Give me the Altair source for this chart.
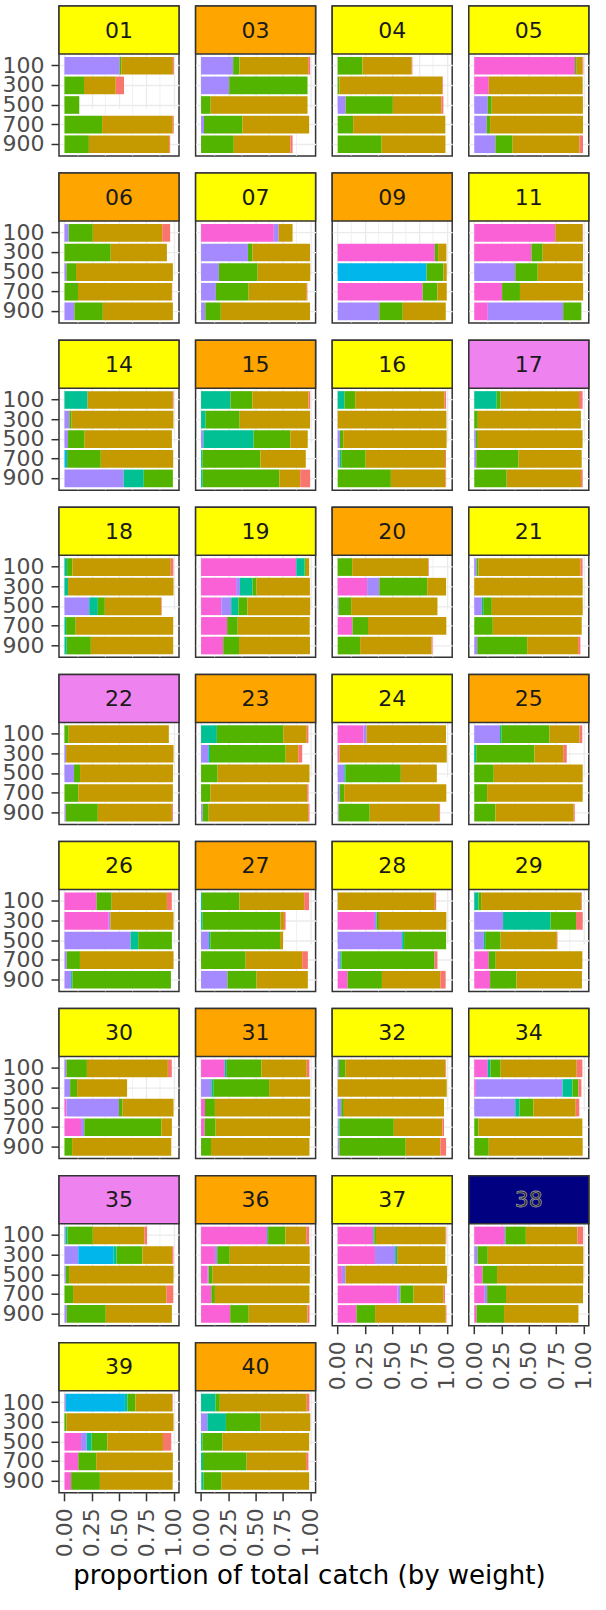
import altair as alt
import pandas as pd

# categories in stacking order (left -> right)
CATS = ["G", "F", "E", "D", "C", "B", "A"]
CAT_COLORS = ["#FB61D7", "#A58AFF", "#00B6EB", "#00C094", "#53B400", "#C49A00", "#F8766D"]
DEPTHS = ["100", "300", "500", "700", "900"]
MAJOR = [0, 0.25, 0.5, 0.75, 1.0]
MINOR = [0.125, 0.375, 0.625, 0.875]
X_TITLE = "proportion of total catch (by weight)"

STRIP_FILL = {"yellow": "#FFFF00", "orange": "#FFA500", "violet": "#EE82EE", "navy": "#000080"}

# each row: [pink, violet, cyan, teal, green, gold, red]
p01 = [[0, .506, 0, 0, .015, .473, .009], [0, 0, 0, 0, .179, .291, .076], [0, 0, 0, 0, .136, 0, 0],
       [0, 0, 0, 0, .345, .648, .009], [0, 0, 0, 0, .224, .736, .009]]
p03 = [[0, .294, 0, 0, .058, .63, .018], [0, .258, 0, 0, .718, 0, 0], [0, 0, 0, 0, .088, .888, 0],
       [0, .027, 0, 0, .352, .612, 0], [0, 0, 0, 0, .3, .518, .021]]
p04 = [[0, 0, 0, 0, .227, .452, .006], [0, 0, 0, 0, .015, .945, .006], [0, .073, 0, 0, .433, .445, .018],
       [0, 0, 0, 0, .142, .845, 0], [0, 0, 0, 0, .403, .585, 0]]
p05 = [[.924, 0, 0, 0, .015, .055, .006], [.133, 0, 0, 0, 0, .861, 0], [0, .124, 0, 0, .036, .836, 0],
       [0, .115, 0, 0, .03, .852, 0], [0, .194, 0, 0, .158, .612, .033]]
p06 = [[0, .039, 0, 0, .221, .636, .073], [0, 0, 0, 0, .424, .515, 0], [0, .018, 0, 0, .088, .888, 0],
       [0, 0, 0, 0, .124, .861, .003], [0, .091, 0, 0, .261, .642, 0]]
p07 = [[.667, .045, 0, 0, 0, .127, 0], [0, .43, 0, 0, .042, .527, 0], [0, .164, 0, 0, .355, .482, 0],
       [0, .136, 0, 0, .3, .533, .006], [0, .039, 0, 0, .142, .818, 0]]
p09 = [[0, 0, 0, 0, 0, 0, 0], [.891, 0, 0, 0, .03, .076, 0], [0, 0, .815, 0, .155, .03, 0],
       [.779, 0, 0, 0, .136, .085, 0], [0, .382, 0, 0, .215, .394, 0]]
p11 = [[.742, 0, 0, 0, 0, .252, .003], [.524, 0, 0, 0, .103, .37, 0], [0, .376, 0, 0, .206, .412, 0],
       [.255, 0, 0, 0, .164, .579, 0], [.124, .691, 0, 0, .167, 0, 0]]
p14 = [[0, 0, 0, .212, 0, .782, .006], [0, .045, 0, 0, .021, .933, 0], [0, .033, 0, 0, .152, .8, 0],
       [0, 0, .024, 0, .309, .664, 0], [0, .542, 0, .185, .267, 0, 0]]
p15 = [[0, 0, 0, .27, .2, .515, .015], [0, 0, 0, .042, .312, .645, 0], [0, .021, 0, .461, .336, .16, 0],
       [0, 0, 0, .012, .533, .415, 0], [0, 0, 0, .015, .703, .191, .091]]
p16 = [[0, 0, 0, .064, .097, .818, .015], [0, 0, 0, 0, 0, .997, 0], [0, .021, 0, 0, .03, .948, 0],
       [0, .018, 0, .015, .224, .727, .009], [0, 0, 0, 0, .488, .5, .006]]
p17 = [[0, 0, 0, .206, .036, .718, .033], [0, 0, 0, 0, .033, .945, 0], [0, .015, 0, 0, .018, .96, 0],
       [0, .018, 0, 0, .388, .579, 0], [0, 0, 0, 0, .297, .682, .015]]
p18 = [[0, 0, 0, .024, .048, .903, .024], [0, 0, 0, .033, 0, .967, 0], [0, .227, 0, .079, .064, .515, .006],
       [0, 0, 0, .015, .088, .894, 0], [0, 0, 0, .021, .221, .755, 0]]
p19 = [[.873, 0, 0, .076, .012, .03, 0], [.321, .036, 0, .115, .036, .49, 0], [.185, .091, 0, .067, .082, .575, 0],
       [.239, 0, 0, 0, .097, .66, 0], [.203, 0, 0, 0, .145, .65, 0]]
p20 = [[0, 0, 0, 0, .133, .697, .006], [.27, .112, 0, 0, .439, .173, 0], [0, .009, 0, 0, .115, .791, 0],
       [.136, 0, 0, 0, .142, .718, 0], [0, 0, 0, 0, .206, .655, .009]]
p21 = [[0, .021, 0, 0, .018, .936, .018], [0, 0, 0, 0, 0, .994, 0], [0, .07, 0, .012, .079, .833, 0],
       [0, 0, 0, 0, .17, .815, 0], [0, .027, 0, 0, .458, .467, .021]]
p22 = [[0, 0, 0, 0, .039, .918, 0], [0, .015, 0, 0, 0, .985, 0], [0, .088, 0, 0, .055, .852, 0],
       [0, 0, 0, 0, .127, .867, 0], [0, .012, 0, 0, .294, .679, .009]]
p23 = [[0, 0, 0, .145, .609, .215, .015], [0, .067, 0, .015, .694, .115, .036], [0, 0, 0, 0, .152, .842, 0],
       [0, 0, 0, 0, .085, .888, .012], [0, .015, 0, 0, .055, .912, .012]]
p24 = [[.236, .03, 0, 0, 0, .727, 0], [.015, 0, 0, 0, 0, .985, 0], [0, .061, 0, .012, .506, .33, 0],
       [0, .018, 0, 0, .042, .936, 0], [0, .009, 0, 0, .285, .636, .009]]
p25 = [[0, .236, 0, .012, .442, .276, .024], [0, 0, 0, .018, .533, .264, .033], [0, 0, 0, 0, .179, .815, 0],
       [0, 0, 0, 0, .118, .876, 0], [0, 0, 0, 0, .194, .718, .009]]
p26 = [[.294, 0, 0, 0, .139, .506, .045], [.406, .015, 0, 0, 0, .579, 0], [0, .606, 0, .07, .309, 0, 0],
       [0, .021, 0, 0, .121, .858, 0], [0, .061, 0, .012, .903, 0, 0]]
p27 = [[0, 0, 0, .009, .342, .594, .045], [0, 0, 0, .015, .712, .033, .015], [0, .073, 0, .012, .639, .027, 0],
       [0, 0, 0, 0, .409, .518, .052], [0, .242, 0, 0, .267, .47, 0]]
p28 = [[0, 0, 0, 0, 0, .891, .012], [.333, .024, 0, 0, .021, .618, 0], [0, .591, 0, .018, .385, 0, 0],
       [0, .024, 0, .012, .852, 0, .027], [.091, 0, 0, 0, .315, .536, .048]]
p29 = [[0, 0, 0, .039, .024, .918, .006], [0, .264, 0, .436, .233, 0, .061], [0, .088, 0, .012, .142, .515, .006],
       [.133, 0, 0, 0, .064, .794, 0], [.145, 0, 0, 0, .242, .6, 0]]
p30 = [[0, .018, 0, 0, .188, .742, .036], [0, .052, 0, 0, .064, .458, 0], [.018, .482, 0, 0, .033, .467, 0],
       [.152, .03, 0, 0, .706, .097, 0], [0, 0, 0, 0, .07, .909, 0]]
p31 = [[.218, 0, 0, .018, .318, .415, .024], [0, .094, 0, .018, .512, .376, 0], [.036, 0, 0, 0, .091, .873, 0],
       [.033, 0, 0, 0, .1, .867, 0], [0, 0, 0, 0, .091, .903, 0]]
p32 = [[0, .012, 0, 0, .058, .918, .006], [0, 0, 0, 0, 0, 1.0, 0], [0, .033, 0, 0, .024, .918, 0],
       [0, .009, 0, .009, .497, .445, .015], [0, .015, 0, 0, .609, .318, .052]]
p34 = [[.124, 0, 0, .024, .094, .697, .052], [.015, .794, 0, .091, .055, 0, .027], [0, .376, 0, .039, .127, .388, .033],
       [0, 0, 0, 0, .039, .952, 0], [0, 0, 0, 0, .133, .861, 0]]
p35 = [[0, .009, 0, .018, .233, .473, .024], [0, .127, .321, .03, .236, .273, .012], [0, .012, 0, 0, .03, .958, 0],
       [0, 0, 0, 0, .079, .855, .064], [0, .021, 0, 0, .358, .606, 0]]
p36 = [[.606, 0, 0, .009, .158, .191, .027], [.127, .021, 0, 0, .115, .733, 0], [.061, .009, 0, 0, .036, .891, 0],
       [.094, 0, 0, 0, .033, .867, 0], [.267, 0, 0, 0, .17, .539, .018]]
p37 = [[.327, 0, 0, .009, .015, .639, .006], [.342, .185, 0, .018, 0, .442, 0], [.039, .033, 0, 0, 0, .93, 0],
       [.548, .027, 0, 0, .121, .276, .012], [.173, 0, 0, 0, .17, .648, .006]]
p38 = [[.273, .012, 0, 0, .188, .473, .052], [0, .03, 0, 0, .094, .876, 0], [.076, 0, 0, 0, .133, .791, 0],
       [.091, .027, 0, 0, .173, .706, 0], [.021, 0, 0, 0, .252, .682, 0]]
p39 = [[.009, 0, .545, .024, .073, .336, .006], [0, 0, 0, 0, .018, .982, 0], [.152, .052, 0, .045, .145, .509, .076],
       [.127, 0, 0, 0, .164, .703, 0], [.061, 0, 0, 0, .264, .667, 0]]
p40 = [[0, 0, 0, .133, .039, .797, .024], [0, .058, 0, .17, .318, .455, 0], [0, 0, 0, .012, .185, .794, 0],
       [0, 0, 0, .018, .4, .545, .021], [0, 0, .006, .015, .167, .803, 0]]

PANELS = {"01": p01, "03": p03, "04": p04, "05": p05, "06": p06, "07": p07, "09": p09, "11": p11,
          "14": p14, "15": p15, "16": p16, "17": p17, "18": p18, "19": p19, "20": p20, "21": p21,
          "22": p22, "23": p23, "24": p24, "25": p25, "26": p26, "27": p27, "28": p28, "29": p29,
          "30": p30, "31": p31, "32": p32, "34": p34, "35": p35, "36": p36, "37": p37, "38": p38,
          "39": p39, "40": p40}
PANEL_ORDER = list(PANELS.keys())

YELLOW = ["01", "04", "05", "07", "11", "14", "16", "18", "19", "21", "24", "26", "28", "29", "30", "32", "34", "37", "39"]
ORANGE = ["03", "06", "09", "15", "20", "23", "25", "27", "31", "36", "40"]
VIOLET = ["17", "22", "35"]
NAVY = ["38"]

BOTTOM = ["37", "38", "39", "40"]

FONT = "DejaVu Sans"
W, HH, BH = 120, 48, 102
H = HH + BH


def strip_group(pid):
    if pid in YELLOW:
        return "yellow"
    if pid in ORANGE:
        return "orange"
    if pid in VIOLET:
        return "violet"
    return "navy"


def panel(pid, show_y, bottom, with_title):
    recs = []
    for d, vals in zip(DEPTHS, PANELS[pid]):
        for k, (c, v) in enumerate(zip(CATS, vals)):
            if v > 0:
                recs.append({"depth": d, "cat": c, "value": v, "ord": k})
    df = pd.DataFrame(recs)
    xscale = alt.Scale(domain=[-0.05, 1.05], nice=False, zero=False)
    common = dict(values=MAJOR, domain=False, grid=True, gridColor="#EBEBEB", gridWidth=1.3)
    if bottom:
        ax = dict(common, format=".2f", labelAngle=270, labelFont=FONT, labelFontSize=22,
                  labelColor="#4D4D4D", labelPadding=7, labelFlush=False, labelOverlap=False,
                  tickSize=8, tickColor="#333333", tickWidth=1.5)
        if with_title:
            ax.update(titleFont=FONT, titleFontSize=26, titleFontWeight="normal", titleColor="#000000",
                      titleX=250, titleY=91, titleAlign="center", titleBaseline="alphabetic", titleAngle=0)
    else:
        ax = dict(common, labels=False, ticks=False)
    xtitle = X_TITLE if with_title else None
    xaxis = alt.Axis(**ax)

    if show_y:
        yaxis = alt.Axis(domain=False, grid=True, gridColor="#EBEBEB", gridWidth=1.3,
                         labelFont=FONT, labelFontSize=22, labelColor="#4D4D4D", labelPadding=7,
                         labelOverlap=False, tickSize=8, tickColor="#333333", tickWidth=1.5)
    else:
        yaxis = alt.Axis(domain=False, grid=True, gridColor="#EBEBEB", gridWidth=1.3,
                         labels=False, ticks=False)

    minor = (alt.Chart(pd.DataFrame({"value": MINOR}))
             .mark_rule(color="#EBEBEB", strokeWidth=0.7)
             .encode(x=alt.X("value:Q", scale=xscale, axis=xaxis, title=xtitle)))
    bars = (alt.Chart(df)
            .mark_bar()
            .encode(x=alt.X("value:Q", stack="zero", scale=xscale, axis=xaxis, title=xtitle),
                    y=alt.Y("depth:N",
                            scale=alt.Scale(domain=DEPTHS, range=[HH, H], paddingInner=0.1, paddingOuter=0.15),
                            axis=yaxis, title=None),
                    color=alt.Color("cat:N", scale=alt.Scale(domain=CATS, range=CAT_COLORS), legend=None),
                    order=alt.Order("ord:Q")))
    g = strip_group(pid)
    lab = pd.DataFrame({"lab": [pid]})
    strip = (alt.Chart(lab)
             .mark_rect(fill=STRIP_FILL[g], stroke="#333333", strokeWidth=1.5)
             .encode(x=alt.value(0), x2=alt.value(W), y=alt.value(0), y2=alt.value(HH)))
    tkw = dict(font=FONT, fontSize=22, fill="#1A1A1A", align="center", baseline="middle")
    if g == "navy":
        tkw.update(stroke="#9A9A9A", strokeWidth=0.8)
    text = (alt.Chart(lab)
            .mark_text(**tkw)
            .encode(text="lab:N", x=alt.value(W / 2), y=alt.value(HH / 2 + 0.5)))
    return (alt.layer(minor, bars, strip, text)
            .properties(width=W, height=H,
                        view=alt.ViewBackground(fill="white", stroke="#333333", strokeWidth=1.5)))


charts = []
for i, pid in enumerate(PANEL_ORDER):
    charts.append(panel(pid, i % 4 == 0, pid in BOTTOM, pid == "39"))

chart = (alt.concat(*charts, columns=4, spacing={"row": 17.1, "column": 16.6}, bounds="flush")
         .properties(padding={"left": 1, "top": 4, "right": 5, "bottom": 5}, background="white")
         .configure(font=FONT)
         .configure_view(stroke="#333333", strokeWidth=1.5))

chart.save("out.html", embed_options={"renderer": "svg", "actions": False})
